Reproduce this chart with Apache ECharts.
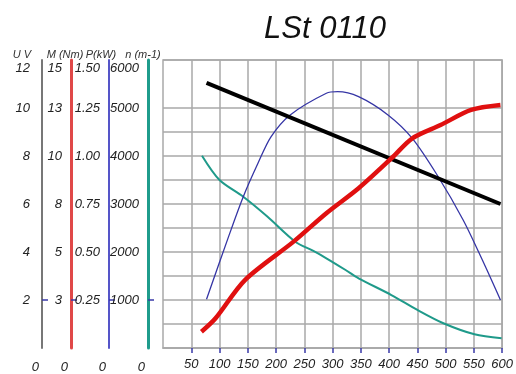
<!DOCTYPE html>
<html>
<head>
<meta charset="utf-8">
<script src="https://cdn.jsdelivr.net/npm/echarts@6/dist/echarts.min.js"></script>
<style>
  html, body { margin: 0; padding: 0; background: #fff; }
  #chart { width: 516px; height: 374px; }
</style>
</head>
<body>
<div id="chart"></div>
<script>
// speed axis
const xTicks = [50, 100, 150, 200, 250, 300, 350, 400, 450, 500, 550, 600];
// horizontal grid rows (one per volt), row 11 has no line in the original
const gridRows = ['0', '1', '2', '3', '4', '5', '6', '7', '8', '9', '10', '11', '12'];

// left scales: values and printed labels
const uVals = [0, 2, 4, 6, 8, 10, 12];
const uLabels = ['0', '2', '4', '6', '8', '10', '12'];
const mVals = [0, 2.5, 5, 7.5, 10, 12.5, 15];
const mLabels = ['0', '3', '5', '8', '10', '13', '15'];
const pVals = [0, 0.25, 0.5, 0.75, 1, 1.25, 1.5];
const pLabels = ['0', '0.25', '0.50', '0.75', '1.00', '1.25', '1.50'];
const nVals = [0, 1000, 2000, 3000, 4000, 5000, 6000];
const nLabels = ['0', '1000', '2000', '3000', '4000', '5000', '6000'];

// curves [speed, value]
const uData = [[77, 11.05], [597, 6.0]];
const mData = [[68, 0.85], [93, 1.55], [145, 3.54], [231, 5.54], [289, 7.02], [346, 8.32],
  [407, 9.96], [441, 10.92], [491, 11.61], [545, 12.4], [597, 12.66]];
const pData = [[77, 0.254], [116, 0.58], [142, 0.788], [168, 0.962], [191, 1.10], [225, 1.214],
  [289, 1.327], [309, 1.335], [346, 1.309], [398, 1.214], [441, 1.092], [485, 0.901],
  [531, 0.667], [565, 0.458], [597, 0.25]];
const nData = [[69, 4006], [100, 3500], [142, 3152], [185, 2735], [234, 2215], [266, 2021],
  [289, 1869], [323, 1625], [346, 1452], [404, 1104], [450, 792], [496, 515], [551, 285], [599, 202]];

const font = "'Liberation Sans', sans-serif";
const gridGray = '#a9a9a9';
const tickBlue = '#3a3aa8';

function txt(extra) {
  return Object.assign({ fontFamily: font, fontStyle: 'italic', fontSize: 13, color: '#222' }, extra);
}

function leftAxis(name, vals, labels, offset, color, width, tickVal, shift, gap) {
  return {
    type: 'value',
    position: 'left',
    offset: offset,
    min: vals[0],
    max: vals[vals.length - 1],
    name: name,
    nameLocation: 'end',
    nameGap: 0,
    nameTextStyle: txt({ fontSize: 11, color: '#333', padding: [0, shift * 2, 0, 0] }),
    axisLine: { show: true, onZero: false, lineStyle: { color: color, width: width } },
    axisTick: { show: true, inside: true, length: 6, customValues: [tickVal], lineStyle: { color: tickBlue, width: 1.5 } },
    splitLine: { show: false },
    axisLabel: {
      margin: 3,
      customValues: vals,
      formatter: function (v) {
        let i = vals.indexOf(v);
        if (i < 0) return '';
        if (i === 0) return '{z|' + labels[i] + '}';
        if (i === vals.length - 1) return '{t|' + labels[i] + '}';
        return '{a|' + labels[i] + '}';
      },
      rich: {
        a: txt({ padding: [0, gap, 0, 0] }),
        z: txt({ padding: [38, 0, 0, 0] }),
        t: txt({ padding: [16, gap, 0, 0] })
      }
    }
  };
}

const chart = echarts.init(document.getElementById('chart'));
chart.setOption({
  animation: false,
  backgroundColor: '#fff',
  title: {
    text: 'LSt 0110',
    left: 320,
    top: 9,
    textAlign: 'center',
    textStyle: txt({ fontSize: 31, fontWeight: 'normal', color: '#111' })
  },
  grid: {
    left: 163, right: 6, top: 60, bottom: 26,
    show: true, borderColor: gridGray, borderWidth: 1.5
  },
  xAxis: {
    type: 'value',
    min: 0, max: 600, interval: 50,
    axisLine: { show: true, lineStyle: { color: gridGray, width: 1.5 } },
    axisTick: { show: true, length: 5, customValues: xTicks, lineStyle: { color: tickBlue, width: 1.5 } },
    axisLabel: Object.assign({ margin: 10, customValues: xTicks }, txt()),
    splitLine: { show: true, lineStyle: { color: gridGray, width: 1.5 } }
  },
  yAxis: [
    leftAxis('U V', uVals, uLabels, 121, '#777', 2, 2, 20, 9),
    leftAxis('M (Nm)', mVals, mLabels, 92, '#e04848', 3, 2.5, 6, 6),
    leftAxis('P(kW)', pVals, pLabels, 54, '#5555c8', 2, 0.25, 8, 6),
    leftAxis('n (m-1)', nVals, nLabels, 15, '#1f9c8c', 3, 1000, 5, 6),
    {
      type: 'category',
      data: gridRows,
      boundaryGap: false,
      position: 'right',
      axisLine: { show: false },
      axisTick: { show: false },
      axisLabel: { show: false },
      splitLine: {
        show: true,
        interval: function (i) { return i !== 11; },
        lineStyle: { color: gridGray, width: 1.5 }
      }
    }
  ],
  series: [
    { type: 'line', yAxisIndex: 3, data: nData, smooth: 0.3, showSymbol: false,
      lineStyle: { color: '#1f9a8a', width: 2 } },
    { type: 'line', yAxisIndex: 2, data: pData, smooth: 0.3, showSymbol: false,
      lineStyle: { color: '#3535a5', width: 1.3 } },
    { type: 'line', yAxisIndex: 0, data: uData, showSymbol: false,
      lineStyle: { color: '#000', width: 4 } },
    { type: 'line', yAxisIndex: 1, data: mData, smooth: 0.3, showSymbol: false,
      lineStyle: { color: '#e01010', width: 4.5 } }
  ]
});
</script>
</body>
</html>
